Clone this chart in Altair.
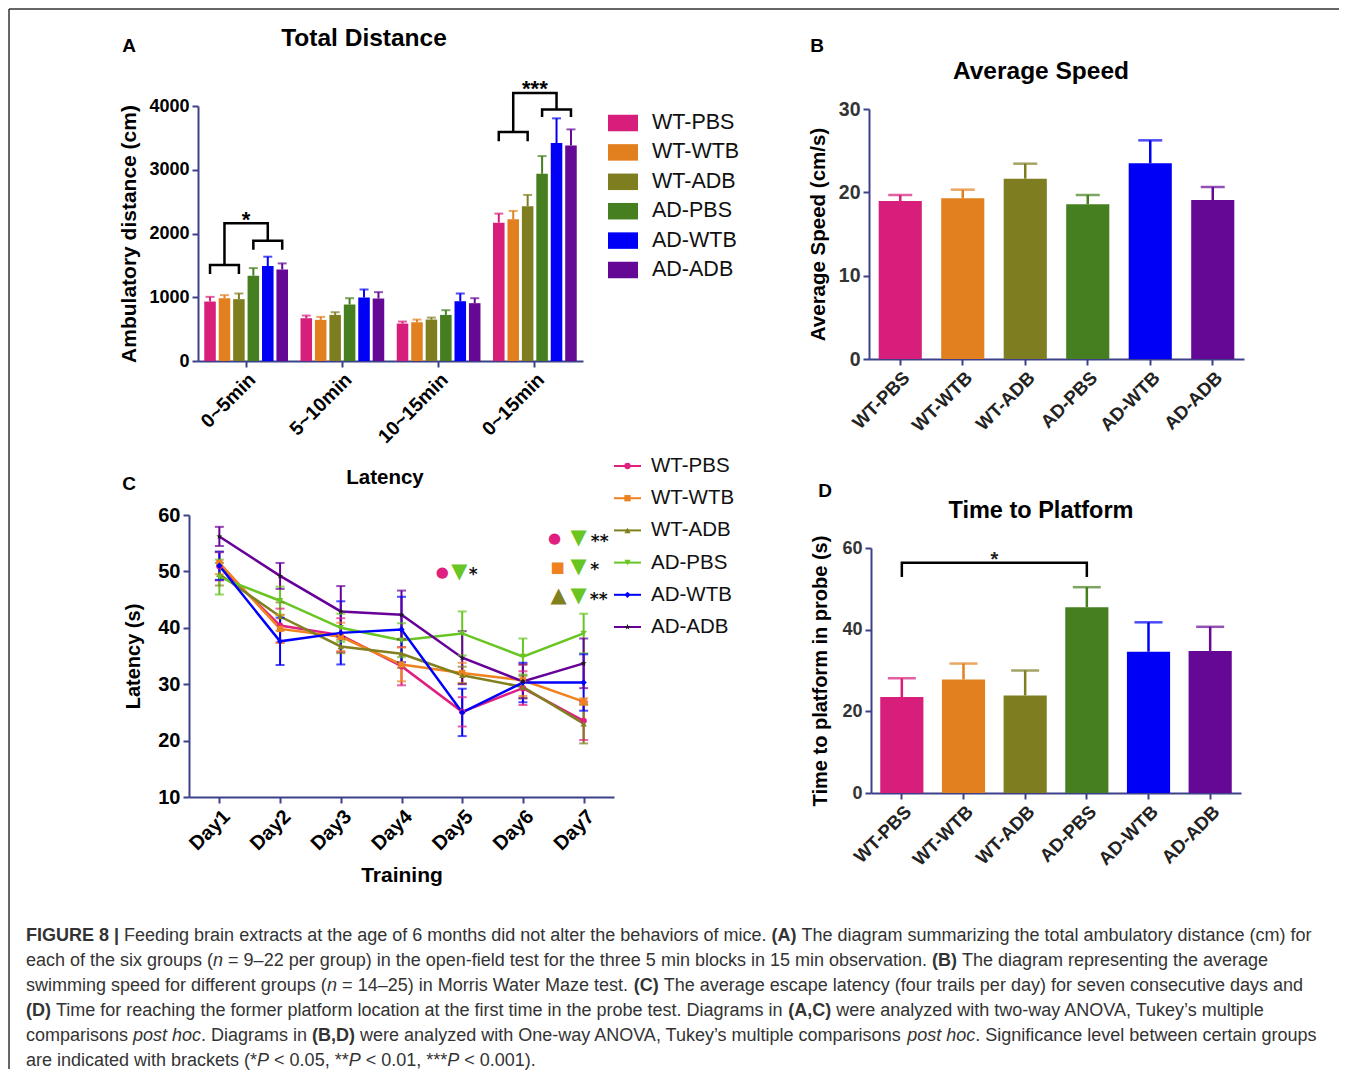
import altair as alt
import pandas as pd

# ---------------- data ----------------
groups = ["WT-PBS", "WT-WTB", "WT-ADB", "AD-PBS", "AD-WTB", "AD-ADB"]
bar_colors = ["#d71e7b", "#e2801f", "#7e7e21", "#467f1f", "#0000f6", "#640895"]
line_colors = ["#e01f80", "#ef821f", "#80801f", "#68c522", "#0000ff", "#660099"]
marker_colors = ["#e01f80", "#ef821f", "#80801f", "#68c522", "#0000ff", "#1a1a1a"]

# Panel A: total distance per 5-min block
blocks = ["0~5min", "5~10min", "10~15min", "0~15min"]
dist_0_5 = [933, 985, 970, 1337, 1489, 1436]
dist_5_10 = [671, 645, 723, 886, 996, 980]
dist_10_15 = [587, 608, 650, 723, 938, 907]
dist_0_15 = [2170, 2223, 2427, 2936, 3418, 3381]
sem_0_5 = [73, 48, 89, 120, 147, 95]
sem_5_10 = [42, 47, 42, 99, 126, 100]
sem_10_15 = [32, 42, 31, 74, 121, 78]
sem_0_15 = [142, 131, 178, 278, 388, 252]

# Panel A significance brackets (polyline vertices)
brA_id = ["a"] * 4 + ["b"] * 4 + ["c"] * 4 + ["d"] * 4 + ["e"] * 4 + ["f"] * 4
brA_block = ["0~5min"] * 12 + ["0~15min"] * 12
brA_bar = ["WT-PBS", "WT-PBS", "WT-ADB", "WT-ADB",
           "AD-PBS", "AD-PBS", "AD-ADB", "AD-ADB",
           "WT-WTB", "WT-WTB", "AD-WTB", "AD-WTB"] * 2
brA_y = [1363, 1505, 1505, 1363, 1746, 1887, 1887, 1746, 1505, 2160, 2160, 1887,
         3449, 3591, 3591, 3449, 3827, 3947, 3947, 3827, 3591, 4204, 4204, 3947]
brA_seq = [0, 1, 2, 3] * 6
starA_block = ["0~5min", "0~15min"]
starA_text = ["*", "***"]
starA_y = [2296, 4351]

# Panel B: average speed
speed_mean = [18.96, 19.28, 21.64, 18.56, 23.48, 19.08]
speed_sem = [0.72, 1.04, 1.80, 1.12, 2.76, 1.56]

# Panel C: latency
days = ["Day1", "Day2", "Day3", "Day4", "Day5", "Day6", "Day7"]
lat_mean = {
    "WT-PBS": [50.9, 40.4, 38.7, 33.2, 25.1, 29.3, 23.5],
    "WT-WTB": [51.5, 39.8, 38.4, 33.5, 32.0, 30.7, 26.9],
    "WT-ADB": [49.5, 42.0, 36.7, 35.4, 31.6, 29.5, 23.0],
    "AD-PBS": [49.0, 44.8, 40.0, 37.8, 39.0, 34.9, 39.0],
    "AD-WTB": [51.0, 37.6, 39.1, 39.7, 25.0, 30.3, 30.3],
    "AD-ADB": [56.2, 49.2, 42.9, 42.3, 34.7, 30.5, 33.7],
}
lat_sem = {
    "WT-PBS": [2.5, 3.0, 3.0, 3.4, 2.6, 3.0, 3.4],
    "WT-WTB": [2.0, 2.5, 2.5, 3.0, 1.8, 2.8, 0.6],
    "WT-ADB": [2.0, 2.5, 1.2, 2.5, 1.5, 2.0, 3.5],
    "AD-PBS": [3.1, 2.5, 2.5, 3.0, 3.9, 3.2, 3.5],
    "AD-WTB": [2.5, 4.2, 5.6, 5.8, 4.2, 3.5, 5.0],
    "AD-ADB": [1.7, 2.3, 4.5, 4.3, 4.7, 3.0, 4.4],
}
# Panel C significance symbols
annC_day = ["Day5", "Day5", "Day5", "Day7", "Day7", "Day7", "Day7", "Day7", "Day7", "Day7", "Day7", "Day7"]
annC_val = [49.9, 49.9, 49.3, 55.9, 55.9, 55.2, 50.8, 50.8, 50.2, 45.6, 45.6, 45.0]
annC_dx = [-20, -3, 11, -29, -5, 16, -26, -5, 11, -25, -5, 15]
annC_text = ["●", "▼", "*", "●", "▼", "**", "■", "▼", "*", "▲", "▼", "**"]
annC_color = ["#e01f80", "#68c522", "#111", "#e01f80", "#68c522", "#111",
              "#ef821f", "#68c522", "#111", "#80801f", "#68c522", "#111"]
annC_size = [15, 21, 17, 15, 21, 17, 15, 21, 17, 21, 21, 17]

# Panel D: time to platform in probe
probe_mean = [23.5, 27.8, 23.9, 45.5, 34.6, 34.8]
probe_sem = [4.6, 3.9, 6.1, 4.9, 7.2, 5.9]
brD_bar = ["WT-PBS", "WT-PBS", "AD-PBS", "AD-PBS"]
brD_y = [52.9, 56.4, 56.4, 52.9]
brD_seq = [0, 1, 2, 3]
starD_y = 58.4

# caption: §bold§ and ¦italic¦ markup
caption_lines = [
    "§FIGURE 8 |§ Feeding brain extracts at the age of 6 months did not alter the behaviors of mice. §(A)§ The diagram summarizing the total ambulatory distance (cm) for",
    "each of the six groups (¦n¦ = 9–22 per group) in the open-field test for the three 5 min blocks in 15 min observation. §(B)§ The diagram representing the average",
    "swimming speed for different groups (¦n¦ = 14–25) in Morris Water Maze test. §(C)§ The average escape latency (four trails per day) for seven consecutive days and",
    "§(D)§ Time for reaching the former platform location at the first time in the probe test. Diagrams in §(A,C)§ were analyzed with two-way ANOVA, Tukey’s multiple",
    "comparisons ¦post hoc¦. Diagrams in §(B,D)§ were analyzed with One-way ANOVA, Tukey’s multiple comparisons ¦post hoc¦. Significance level between certain groups",
    "are indicated with brackets (*¦P¦ < 0.05, **¦P¦ < 0.01, ***¦P¦ < 0.001).",
]

# ---------------- style ----------------
W, H = 1330, 1060
NAVY = "#3c4089"
FONT = "Liberation Sans"
STAR = "M0,-1L0.24,-0.32L0.95,-0.31L0.38,0.12L0.59,0.81L0,0.4L-0.59,0.81L-0.38,0.12L-0.95,-0.31L-0.24,-0.32Z"
shapes = ["circle", "square", "triangle-up", "triangle-down", "diamond", STAR]
RECT = "M-1,-0.55L1,-0.55L1,0.55L-1,0.55Z"
dummy = pd.DataFrame({"_": [0]})


def ax(orient, offset, **kw):
    base = dict(orient=orient, offset=offset, domainColor=NAVY, domainWidth=2,
                tickColor=NAVY, tickWidth=2, tickSize=6, grid=False,
                labelFont=FONT, labelFontWeight="bold", labelFontSize=18,
                labelColor="#000", titleFont=FONT, titleFontWeight="bold",
                titleFontSize=19, titleColor="#000", labelFlush=False,
                labelOverlap=False, labelPadding=3)
    base.update(kw)
    return alt.Axis(**base)


# ---------------- panel A ----------------
dfA = pd.DataFrame({
    "block": [b for b in blocks for _ in groups],
    "group": groups * 4,
    "mean": dist_0_5 + dist_5_10 + dist_10_15 + dist_0_15,
    "sem": sem_0_5 + sem_5_10 + sem_10_15 + sem_0_15,
})
dfA["top"] = dfA["mean"] + dfA["sem"]
dfBrA = pd.DataFrame({"id": brA_id, "block": brA_block, "group": brA_bar, "y": brA_y, "seq": brA_seq})
dfStarA = pd.DataFrame({"block": starA_block, "t": starA_text, "y": starA_y})

axA_x = ax("bottom", 352 - H, labelAngle=-45, labelFontSize=19.5)
axA_y = ax("left", -189, values=[0, 1000, 2000, 3000, 4000], format="d", title="Ambulatory distance (cm)",
           titlePadding=9, titleFontSize=21)
xA = alt.X("block:N", title=None, scale=alt.Scale(domain=blocks, range=[189, 574], paddingInner=0.1, paddingOuter=0.05), axis=axA_x)
xoA = alt.XOffset("group:N", scale=alt.Scale(domain=groups, paddingInner=0.2, paddingOuter=0.1))
scA = alt.Scale(domain=[0, 4000], range=[352, 97], nice=False)
colA = alt.Color("group:N", scale=alt.Scale(domain=groups, range=bar_colors), legend=None)


def yA(f):
    return alt.Y(f, stack=None, scale=scA, axis=axA_y, title="Ambulatory distance (cm)")


panelA = alt.layer(
    alt.Chart(dfA).mark_bar().encode(x=xA, xOffset=xoA, y=yA("mean:Q"), color=colA),
    alt.Chart(dfA).mark_rule(strokeWidth=2).encode(x=xA, xOffset=xoA, y=yA("mean:Q"), y2="top:Q", color=colA),
    alt.Chart(dfA).mark_tick(thickness=2, size=9).encode(x=xA, xOffset=xoA, y=yA("top:Q"), color=colA),
    alt.Chart(dfBrA).mark_line(color="black", strokeWidth=2.5).encode(
        x=xA, xOffset=xoA, y=yA("y:Q"), detail="id:N", order="seq:Q"),
    alt.Chart(dfStarA).mark_text(font=FONT, fontSize=22, fontWeight="bold", baseline="alphabetic", dy=12).encode(
        x=xA, y=yA("y:Q"), text="t:N"),
)

yLegA = alt.Y("group:N", scale=alt.Scale(type="point", domain=groups, range=[114, 261], padding=0), axis=None)
legA = alt.layer(
    alt.Chart(pd.DataFrame({"group": groups})).mark_point(shape=RECT, filled=True, size=900, opacity=1).encode(
        x=alt.value(614), y=yLegA, color=colA),
    alt.Chart(pd.DataFrame({"group": groups})).mark_text(align="left", baseline="middle", font=FONT, fontSize=21.5, color="#111").encode(
        x=alt.value(643), y=yLegA, text="group:N"),
)

# ---------------- panel B ----------------
dfB = pd.DataFrame({"group": groups, "mean": speed_mean, "sem": speed_sem})
dfB["top"] = dfB["mean"] + dfB["sem"]
axB_x = ax("bottom", 350 - H, labelAngle=-45, labelFontSize=18.5, labelColor="#222")
axB_y = ax("left", -860, values=[0, 10, 20, 30], title="Average Speed (cm/s)", titlePadding=10,
           titleFontSize=20.5, labelColor="#333", labelFontSize=19.5)
xB = alt.X("group:N", title=None, scale=alt.Scale(domain=groups, range=[860, 1235], paddingInner=0.31, paddingOuter=0.155), axis=axB_x)
scB = alt.Scale(domain=[0, 30], range=[350, 100], nice=False)


def yB(f):
    return alt.Y(f, stack=None, scale=scB, axis=axB_y, title="Average Speed (cm/s)")


panelB = alt.layer(
    alt.Chart(dfB).mark_bar().encode(x=xB, y=yB("mean:Q"), color=colA),
    alt.Chart(dfB).mark_rule(strokeWidth=2.5).encode(x=xB, y=yB("mean:Q"), y2="top:Q", color=colA),
    alt.Chart(dfB).mark_tick(thickness=2.5, size=24).encode(x=xB, y=yB("top:Q"), color=colA),
)

# ---------------- panel C ----------------
rows = []
for g in groups:
    for i, d in enumerate(days):
        m, e = lat_mean[g][i], lat_sem[g][i]
        rows.append({"group": g, "day": d, "mean": m, "lo": m - e, "hi": m + e})
dfC = pd.DataFrame(rows)
axC_x = ax("bottom", 788 - H, labelAngle=-45, labelFontSize=20, title="Training",
           titleFontSize=21, titlePadding=11)
axC_y = ax("left", -180, values=[10, 20, 30, 40, 50, 60], title="Latency (s)", titleFontSize=20,
           titlePadding=14, labelFontSize=20)
xC = alt.X("day:N", title="Training", scale=alt.Scale(type="point", domain=days, range=[180, 605], padding=0.5), axis=axC_x)
scC = alt.Scale(domain=[10, 60], range=[788, 506], nice=False, zero=False)
colC = alt.Color("group:N", scale=alt.Scale(domain=groups, range=line_colors), legend=None)
fillC = alt.Fill("group:N", scale=alt.Scale(domain=groups, range=marker_colors), legend=None)
shpC = alt.Shape("group:N", scale=alt.Scale(domain=groups, range=shapes), legend=None)


def yC(f):
    return alt.Y(f, scale=scC, axis=axC_y, title="Latency (s)")


layersC = [
    alt.Chart(dfC).mark_line(strokeWidth=2.5).encode(x=xC, y=yC("mean:Q"), color=colC),
    alt.Chart(dfC).mark_rule(strokeWidth=2).encode(x=xC, y=yC("lo:Q"), y2="hi:Q", color=colC),
    alt.Chart(dfC).mark_tick(thickness=2, size=9).encode(x=xC, y=yC("lo:Q"), color=colC),
    alt.Chart(dfC).mark_tick(thickness=2, size=9).encode(x=xC, y=yC("hi:Q"), color=colC),
    alt.Chart(dfC).mark_point(filled=True, size=40, opacity=1, strokeWidth=0).encode(
        x=xC, y=yC("mean:Q"), fill=fillC, shape=shpC),
]
for d, v, dx, t, c, s in zip(annC_day, annC_val, annC_dx, annC_text, annC_color, annC_size):
    layersC.append(
        alt.Chart(pd.DataFrame({"day": [d], "v": [v]})).mark_text(
            text=t, color=c, fontSize=s, dx=dx, font="DejaVu Sans", baseline="middle",
            fontWeight="bold" if "*" in t else "normal").encode(x=xC, y=yC("v:Q")))
panelC = alt.layer(*layersC)

yLegC = alt.Y("group:N", scale=alt.Scale(type="point", domain=groups, range=[457, 618], padding=0), axis=None)
legC = alt.layer(
    alt.Chart(pd.DataFrame({"group": groups})).mark_rule(strokeWidth=2).encode(
        x=alt.value(605), x2=alt.value(632), y=yLegC, color=colC),
    alt.Chart(pd.DataFrame({"group": groups})).mark_point(filled=True, size=40, opacity=1, strokeWidth=0).encode(
        x=alt.value(618.5), y=yLegC, fill=fillC, shape=shpC),
    alt.Chart(pd.DataFrame({"group": groups})).mark_text(align="left", baseline="middle", font=FONT, fontSize=20.5, color="#111").encode(
        x=alt.value(642), y=yLegC, text="group:N"),
)

# ---------------- panel D ----------------
dfD = pd.DataFrame({"group": groups, "mean": probe_mean, "sem": probe_sem})
dfD["top"] = dfD["mean"] + dfD["sem"]
dfBrD = pd.DataFrame({"group": brD_bar, "y": brD_y, "seq": brD_seq})
axD_x = ax("bottom", 784 - H, labelAngle=-45, labelFontSize=18.5, labelColor="#222")
axD_y = ax("left", -862, values=[0, 20, 40, 60], title="Time to platform in probe (s)", titlePadding=11,
           titleFontSize=20, labelColor="#333")
xD = alt.X("group:N", title=None, scale=alt.Scale(domain=groups, range=[862, 1232], paddingInner=0.3, paddingOuter=0.15), axis=axD_x)
scD = alt.Scale(domain=[0, 60], range=[784, 539], nice=False)


def yD(f):
    return alt.Y(f, stack=None, scale=scD, axis=axD_y, title="Time to platform in probe (s)")


panelD = alt.layer(
    alt.Chart(dfD).mark_bar().encode(x=xD, y=yD("mean:Q"), color=colA),
    alt.Chart(dfD).mark_rule(strokeWidth=2.5).encode(x=xD, y=yD("mean:Q"), y2="top:Q", color=colA),
    alt.Chart(dfD).mark_tick(thickness=2.5, size=28).encode(x=xD, y=yD("top:Q"), color=colA),
    alt.Chart(dfBrD).mark_line(color="black", strokeWidth=2.5).encode(x=xD, y=yD("y:Q"), order="seq:Q"),
    alt.Chart(pd.DataFrame({"group": ["WT-WTB"], "y": [starD_y]})).mark_text(
        text="*", font=FONT, fontSize=20, fontWeight="bold", baseline="alphabetic", dy=11, dx=31, color="#222").encode(
        x=xD, y=yD("y:Q")),
)


# ---------------- titles, letters, caption, frame ----------------
def label(text, x, y, size, weight="bold", align="center"):
    return alt.Chart(dummy).mark_text(text=text, font=FONT, fontSize=size, fontWeight=weight,
                                      align=align, baseline="middle", color="#000").encode(
        x=alt.value(x), y=alt.value(y))


texts = [
    label("Total Distance", 355, 30, 24.5),
    label("Average Speed", 1032, 63, 24.5),
    label("Latency", 376, 469, 20.5),
    label("Time to Platform", 1032, 502, 23.5),
    label("A", 120, 37, 19),
    label("B", 808, 37, 19),
    label("C", 120, 475, 19),
    label("D", 816, 482, 19),
]

# Arial/Helvetica advance widths (per 1000 em) used to lay out the mixed-style caption runs
_REG = {" ": 278, "(": 333, ")": 333, ",": 278, "-": 333, ".": 278, "|": 260, "*": 389, "<": 584,
        "=": 584, "’": 222, "–": 556, "A": 667, "B": 667, "C": 722, "D": 722, "E": 667, "F": 611,
        "G": 778, "I": 278, "M": 833, "N": 722, "O": 778, "P": 667, "R": 722, "S": 667, "T": 611,
        "U": 722, "V": 667, "W": 944, "Z": 611, "a": 556, "b": 556, "c": 500, "d": 556, "e": 556,
        "f": 278, "g": 556, "h": 556, "i": 222, "j": 222, "k": 500, "l": 222, "m": 833, "n": 556,
        "o": 556, "p": 556, "q": 556, "r": 333, "s": 500, "t": 278, "u": 556, "v": 500, "w": 722,
        "x": 500, "y": 500, "z": 500}
_BOLD = {" ": 278, "(": 333, ")": 333, ",": 278, "|": 280, "A": 722, "B": 722, "C": 722, "D": 722,
         "E": 667, "F": 611, "G": 778, "I": 278, "R": 722, "U": 722}
_KERN = {"AV": -74, "VA": -74, "Tu": -37}


def _w(s, bold):
    tab = _BOLD if bold else _REG
    total = sum(tab.get(ch, _REG.get(ch, 556)) for ch in s)
    total += sum(_KERN.get(s[k:k + 2], 0) for k in range(len(s) - 1))
    return total


CAP_FS = 18
cap_rows = []
for li, line in enumerate(caption_lines):
    x = 17.0
    style = "normal"
    buf = ""
    runs = []
    for ch in line:
        if ch == "§":
            runs.append((buf, style)); buf = ""
            style = "normal" if style == "bold" else "bold"
        elif ch == "¦":
            runs.append((buf, style)); buf = ""
            style = "normal" if style == "italic" else "italic"
        else:
            buf += ch
    runs.append((buf, style))
    for txt, st in runs:
        if not txt:
            continue
        lead = len(txt) - len(txt.lstrip(" "))
        xs = x + _w(txt[:lead], st == "bold") * CAP_FS / 1000
        if txt.strip():
            cap_rows.append({"i": li, "x": round(xs, 2), "t": txt.strip(), "st": st})
        x += _w(txt, st == "bold") * CAP_FS / 1000
dfCap = pd.DataFrame(cap_rows)
yCap = alt.Y("i:O", scale=alt.Scale(type="point", domain=list(range(len(caption_lines))), range=[927, 1052], padding=0), axis=None)
caption = alt.layer(*[
    alt.Chart(dfCap[dfCap["st"] == st]).mark_text(
        align="left", baseline="middle", font=FONT, fontSize=CAP_FS, color="#333",
        fontWeight="bold" if st == "bold" else "normal",
        fontStyle="italic" if st == "italic" else "normal").encode(
        x=alt.X("x:Q", scale=None), y=yCap, text="t:N")
    for st in ["normal", "bold", "italic"]
])

frame = [
    alt.Chart(dummy).mark_rule(color="#333", strokeWidth=1.5).encode(x=alt.value(0), x2=alt.value(W), y=alt.value(0)),
    alt.Chart(dummy).mark_rule(color="#333", strokeWidth=1.5).encode(x=alt.value(0), y=alt.value(0), y2=alt.value(H)),
]

chart = alt.layer(panelA, legA, panelB, panelC, legC, panelD, caption, *texts, *frame).resolve_scale(
    x="independent", y="independent", color="independent", fill="independent", shape="independent"
).resolve_axis(x="independent", y="independent").properties(
    width=W, height=H, padding=0
).configure_view(stroke=None)

chart.save("out.html", embed_options={"renderer": "svg", "actions": False})
